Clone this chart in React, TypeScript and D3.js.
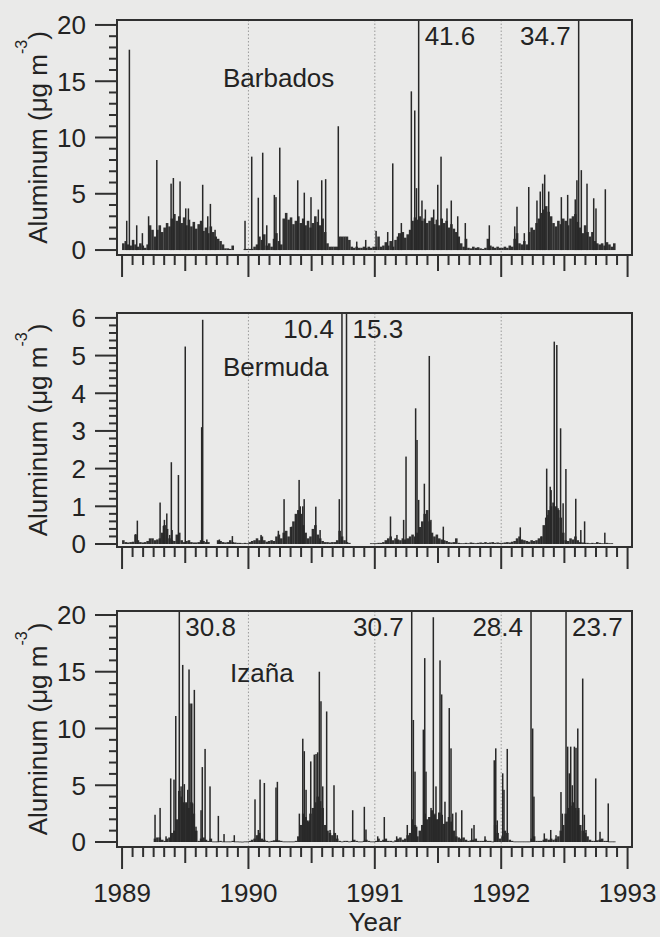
import React, { useEffect, useRef } from 'react';
import * as d3 from 'd3';

type Peak = [number, number];

const YEARS = [1989, 1990, 1991, 1992];
const TICK_YEARS = [1989, 1990, 1991, 1992, 1993];

// weekly background level of the daily record (µg m-3), 52 weeks per year, null = no samples
const barbados1989 = [0.6, 0.8, 0.5, 0.4, 0.9, 0.5, 0.3, 0.6, 0.4, 0.2, 0.5, 2.2, 1.8, 1.2, 1.8, 2.2, 1.6, 2.0, 2.4, 2.1, 2.8, 3.2, 2.6, 3.0, 2.4, 2.9, 2.2, 2.7, 2.1, 2.5, 1.9, 2.3, 2.6, 1.7, 2.0, 1.5, 2.1, 1.6, 1.2, 1.0, 0.8, 0.5, 0.15, 0.15, 0.1, 0.4, null, null, null, null, 0.1, 0.1];
const barbados1990 = [0.1, 0.1, 0.3, 0.5, 1.2, 0.9, 1.4, 0.4, 0.6, 0.3, 1.0, 1.5, 0.8, 0.5, 2.8, 3.3, 2.7, 2.9, 2.3, 2.6, 3.0, 2.4, 2.8, 2.2, 2.6, 2.0, 2.4, 3.0, 2.5, 2.2, 2.8, 1.6, 0.6, 0.3, 0.3, 0.3, 0.3, 1.2, 1.2, 1.2, 1.2, 0.9, 0.3, 0.2, 0.3, 0.2, 0.2, 0.3, 0.2, 0.3, 0.2, 0.3];
const barbados1991 = [0.3, 1.2, 0.3, 0.4, 0.7, 0.4, 0.8, 0.3, 0.9, 1.2, 1.5, 1.6, 1.1, 1.4, 1.8, 2.6, 2.9, 2.7, 3.0, 2.6, 2.8, 2.4, 2.6, 2.9, 2.3, 2.7, 2.2, 2.8, 2.4, 2.6, 2.0, 2.3, 1.9, 1.6, 1.2, 0.6, 0.3, 1.0, 0.2, 0.15, 0.3, 0.2, 0.25, 0.15, 0.1, 0.2, 1.0, 0.4, 0.3, 0.2, 0.3, 0.2];
const barbados1992 = [0.2, 0.3, 0.2, 0.4, 0.3, 1.0, 1.5, 0.6, 0.5, 0.8, 0.5, 1.6, 2.0, 1.8, 2.4, 2.8, 3.3, 3.6, 3.9, 3.4, 3.0, 2.4, 2.1, 2.6, 2.3, 2.8, 2.6, 2.2, 2.8, 3.0, 3.2, 2.5, 2.0, 1.5, 2.2, 1.6, 1.2, 1.6, 0.8, 0.6, 0.5, 0.6, 0.4, 0.7, 0.5, 0.3, 0.6, null, null, null, null, null];

const bermuda1989 = [0.1, 0.05, 0.04, 0.05, 0.06, 0.25, 0.1, 0.05, 0.04, 0.05, 0.08, 0.15, 0.15, 0.1, 0.12, 0.15, 0.3, 0.5, 0.4, 0.15, 0.1, 0.08, 0.25, 0.3, 0.1, 0.05, 0.08, 0.1, 0.05, 0.04, 0.04, 0.05, 0.1, 0.08, 0.05, 0.05, null, null, null, 0.1, 0.08, 0.05, 0.04, 0.05, 0.1, 0.05, 0.04, 0.03, 0.03, 0.02, 0.03, 0.02];
const bermuda1990 = [0.05, 0.08, 0.1, 0.15, 0.1, 0.2, 0.1, 0.06, 0.08, 0.1, 0.08, 0.2, 0.25, 0.15, 0.3, 0.35, 0.2, 0.45, 0.6, 0.8, 0.9, 0.8, 0.5, 0.3, 0.15, 0.2, 0.4, 0.5, 0.25, 0.15, 0.08, 0.05, 0.05, 0.04, 0.05, 0.05, 0.1, 0.35, 0.2, 0.1, 0.05, 0.03, null, null, null, null, null, null, null, null, 0.02, 0.02];
const bermuda1991 = [0.02, 0.03, 0.03, 0.05, 0.1, 0.15, 0.2, 0.1, 0.15, 0.12, 0.1, 0.15, 0.12, 0.15, 0.2, 0.25, 0.2, 0.3, 0.45, 0.6, 0.8, 0.9, 0.6, 0.3, 0.2, 0.25, 0.15, 0.12, 0.1, 0.08, 0.05, 0.04, 0.05, 0.15, 0.03, 0.02, 0.02, 0.03, 0.02, 0.04, 0.03, 0.02, 0.03, 0.04, 0.03, 0.05, 0.03, 0.04, 0.05, 0.03, 0.04, 0.03];
const bermuda1992 = [0.03, 0.04, 0.05, 0.04, 0.06, 0.08, 0.15, 0.2, 0.12, 0.1, 0.08, 0.06, 0.1, 0.08, 0.1, 0.15, 0.2, 0.5, 0.7, 0.9, 1.0, 1.1, 1.0, 0.9, 0.7, 0.3, 0.1, 0.08, 0.15, 0.12, 0.2, 0.1, 0.05, 0.04, 0.03, 0.03, 0.02, 0.03, 0.02, 0.05, 0.03, 0.02, 0.02, 0.03, 0.02, 0.02, null, null, null, null, null, null];

const izana1989 = [null, null, null, null, null, null, null, null, null, null, null, null, null, 0.3, 0.4, 0.4, 0.2, 0.1, 0.3, 0.4, 0.8, 1.0, 2.0, 4.5, 4.0, 3.5, 3.5, 3.0, 3.5, 2.5, 1.0, 0.1, 0.3, 0.4, 0.2, 0.1, 0.3, 0.05, 0.05, 0.05, 0.1, 0.05, 0.05, 0.05, 0.05, 0.1, 0.05, 0.05, 0.04, 0.03, 0.05, 0.05];
const izana1990 = [0.1, 0.2, 0.3, 0.6, 0.8, 0.3, 0.2, 0.1, 0.05, 0.1, 0.15, 0.2, 0.15, 0.1, 0.05, 0.05, 0.05, 0.05, 0.05, 0.1, 0.5, 1.5, 2.5, 2.2, 1.8, 2.5, 3.0, 3.5, 4.0, 3.6, 3.0, 1.5, 1.0, 0.8, 0.6, 0.8, 0.3, 0.1, 0.05, 0.1, 0.1, 0.05, 0.1, 0.2, 0.1, 0.05, 0.05, 0.1, 0.2, 0.1, 0.05, 0.05];
const izana1991 = [0.1, 0.3, 0.1, 0.2, 0.3, 0.1, 0.1, 0.05, 0.15, 0.3, 0.4, 0.2, 0.3, 0.6, 0.8, 2.0, 1.5, 0.5, 1.0, 1.5, 2.5, 2.0, 2.2, 2.8, 2.4, 2.0, 2.6, 2.4, 1.6, 1.8, 2.2, 1.8, 1.0, 0.5, 0.4, 0.3, 0.4, 0.2, 0.1, 0.15, 0.2, 0.3, 0.1, 0.1, 0.1, 0.2, 0.1, 0.1, 0.05, 1.5, 0.8, 0.3];
const izana1992 = [0.5, 1.0, 0.8, 0.2, 0.1, 0.05, 0.05, 0.05, 0.05, 0.05, 0.05, 0.05, 0.3, 0.5, 0.1, 0.1, 0.1, 0.2, 0.3, 0.2, 0.3, 0.2, 0.3, 0.5, 1.0, 1.5, 2.5, 3.0, 3.2, 3.5, 3.0, 2.8, 1.5, 1.0, 0.8, 0.5, 0.2, 0.1, 0.1, 0.15, 0.2, 0.3, 0.1, 0.1, 0.05, 0.05, 0.05, null, null, null, null, null];

// individual daily peaks: [decimal year, µg m-3]
const barbadosPeaks: Peak[] = [
  [1989.037, 2.6], [1989.058, 17.8], [1989.089, 0.9], [1989.116, 2.2], [1989.161, 1.5], [1989.21, 3.0],
  [1989.275, 8.0], [1989.388, 5.9], [1989.406, 6.4], [1989.459, 6.1], [1989.504, 3.7], [1989.525, 3.7],
  [1989.567, 2.2], [1989.638, 5.8], [1989.678, 3.0], [1989.699, 4.1], [1989.736, 1.8], [1989.973, 2.6],
  [1990.026, 8.3], [1990.078, 4.65], [1990.113, 8.65], [1990.145, 2.2], [1990.205, 4.9], [1990.218, 4.7],
  [1990.248, 9.1], [1990.39, 6.2], [1990.442, 5.1], [1990.495, 4.7], [1990.553, 3.6], [1990.58, 6.2],
  [1990.611, 6.3], [1990.711, 11.0], [1990.857, 0.75], [1990.928, 0.9],
  [1991.01, 1.7], [1991.102, 1.6], [1991.142, 7.7], [1991.189, 1.5], [1991.21, 2.4], [1991.289, 14.1],
  [1991.316, 12.4], [1991.33, 5.5], [1991.347, 41.6], [1991.373, 4.4], [1991.4, 3.6], [1991.466, 3.6],
  [1991.498, 5.8], [1991.524, 8.3], [1991.571, 3.7], [1991.605, 4.4], [1991.656, 3.0], [1991.716, 2.4],
  [1991.906, 2.2],
  [1992.107, 2.1], [1992.125, 3.85], [1992.183, 1.5], [1992.218, 5.6], [1992.283, 4.4], [1992.309, 5.2],
  [1992.328, 5.9], [1992.344, 6.7], [1992.376, 5.2], [1992.476, 4.7], [1992.526, 4.9], [1992.586, 4.5],
  [1992.599, 6.2], [1992.613, 34.7], [1992.634, 7.1], [1992.679, 5.9], [1992.732, 4.6], [1992.75, 3.7],
  [1992.824, 5.4],
];

const bermudaPeaks: Peak[] = [
  [1989.108, 0.26], [1989.121, 0.62], [1989.301, 1.1], [1989.327, 0.48], [1989.335, 0.64], [1989.354, 0.81],
  [1989.377, 0.24], [1989.39, 2.17], [1989.396, 0.37], [1989.446, 1.83], [1989.5, 5.24], [1989.63, 3.1],
  [1989.638, 5.95], [1989.671, 0.12], [1989.77, 0.12], [1989.873, 0.21],
  [1990.1, 0.24], [1990.237, 0.35], [1990.282, 1.19], [1990.341, 0.46], [1990.375, 0.77], [1990.401, 1.7],
  [1990.41, 1.0], [1990.43, 1.0], [1990.441, 1.19], [1990.533, 0.99], [1990.567, 0.37], [1990.719, 1.19],
  [1990.74, 10.4], [1990.776, 15.3],
  [1991.124, 0.73], [1991.175, 0.24], [1991.228, 0.64], [1991.247, 2.32], [1991.323, 3.6], [1991.334, 2.76],
  [1991.347, 1.17], [1991.392, 1.6], [1991.431, 4.99], [1991.444, 0.64], [1991.542, 0.46],
  [1992.151, 0.44], [1992.32, 0.2], [1992.36, 2.0], [1992.37, 0.77], [1992.388, 1.52], [1992.395, 1.43],
  [1992.42, 5.37], [1992.44, 5.28], [1992.45, 0.95], [1992.47, 3.07], [1992.49, 1.08], [1992.512, 1.99],
  [1992.59, 1.2], [1992.63, 0.37], [1992.66, 0.6], [1992.82, 0.3],
];

const izanaPeaks: Peak[] = [
  [1989.261, 2.4], [1989.301, 3.0], [1989.348, 0.5], [1989.385, 5.6], [1989.411, 5.5], [1989.425, 11.1],
  [1989.453, 30.8], [1989.467, 4.9], [1989.48, 15.6], [1989.493, 5.1], [1989.506, 3.4], [1989.52, 4.6],
  [1989.53, 15.2], [1989.538, 12.2], [1989.551, 12.2], [1989.559, 3.4], [1989.572, 13.4], [1989.585, 1.35],
  [1989.625, 2.8], [1989.635, 6.6], [1989.657, 8.2], [1989.696, 4.9], [1989.762, 2.3], [1989.807, 0.7],
  [1989.888, 0.6],
  [1990.052, 3.76], [1990.078, 1.06], [1990.092, 5.5], [1990.126, 5.2], [1990.218, 4.8], [1990.229, 5.3],
  [1990.403, 2.5], [1990.43, 9.1], [1990.442, 8.0], [1990.456, 4.6], [1990.469, 1.9], [1990.482, 1.9],
  [1990.493, 7.1], [1990.521, 7.7], [1990.535, 7.75], [1990.548, 7.9], [1990.561, 15.0], [1990.574, 12.4],
  [1990.588, 4.9], [1990.619, 11.5], [1990.646, 1.06], [1990.677, 5.0], [1990.703, 0.6], [1990.825, 2.8],
  [1990.917, 3.1], [1990.93, 1.1],
  [1991.023, 0.5], [1991.075, 2.2], [1991.173, 0.5], [1991.257, 1.5], [1991.292, 30.7], [1991.305, 10.75],
  [1991.318, 6.2], [1991.331, 1.35], [1991.384, 9.9], [1991.395, 16.2], [1991.405, 6.2], [1991.429, 2.2],
  [1991.445, 3.0], [1991.463, 19.8], [1991.476, 2.5], [1991.484, 4.9], [1991.502, 2.0], [1991.516, 16.0],
  [1991.529, 13.0], [1991.555, 3.55], [1991.589, 11.8], [1991.603, 8.25], [1991.616, 2.5], [1991.642, 2.6],
  [1991.688, 2.8], [1991.767, 1.2], [1991.785, 1.5], [1991.872, 0.5], [1991.945, 7.2], [1991.957, 8.25],
  [1991.969, 1.9],
  [1992.012, 6.05], [1992.022, 4.6], [1992.048, 8.2], [1992.236, 28.4], [1992.249, 10.0], [1992.259, 4.0],
  [1992.341, 0.76], [1992.392, 1.06], [1992.434, 0.6], [1992.473, 4.4], [1992.484, 2.5], [1992.513, 23.7],
  [1992.526, 8.4], [1992.539, 6.05], [1992.55, 8.4], [1992.563, 5.0], [1992.579, 8.4], [1992.592, 8.3],
  [1992.606, 10.0], [1992.614, 3.0], [1992.645, 14.4], [1992.658, 2.4], [1992.671, 1.06], [1992.748, 5.6],
  [1992.782, 0.9], [1992.847, 3.4],
];

// side of the spike on which each off-scale value is written, in time order
const barbadosLabelSides = ['right', 'left'];
const bermudaLabelSides = ['left', 'right'];
const izanaLabelSides = ['right', 'left', 'left', 'right'];

const stations = [
  { name: 'Barbados', weekly: [barbados1989, barbados1990, barbados1991, barbados1992], peaks: barbadosPeaks, sides: barbadosLabelSides,
    major: [0, 5, 10, 15, 20], minorStep: 1, top: 20, bottom: 255, domain: [-0.44, 20.44], nameX: 223, nameDy: 67 },
  { name: 'Bermuda', weekly: [bermuda1989, bermuda1990, bermuda1991, bermuda1992], peaks: bermudaPeaks, sides: bermudaLabelSides,
    major: [0, 1, 2, 3, 4, 5, 6], minorStep: 0.2, top: 313, bottom: 547, domain: [-0.08, 6.13], nameX: 223, nameDy: 63 },
  { name: 'Izaña', weekly: [izana1989, izana1990, izana1991, izana1992], peaks: izanaPeaks, sides: izanaLabelSides,
    major: [0, 5, 10, 15, 20], minorStep: 1, top: 611, bottom: 847, domain: [-0.44, 20.35], nameX: 230, nameDy: 71 },
];

const W = 660;
const H = 937;
const INK = '#232323';
const FONT = '"Liberation Sans", Arial, Helvetica, sans-serif';

const App = () => {
  const ref = useRef<SVGSVGElement>(null);

  useEffect(() => {
    const svg = d3.select(ref.current);
    svg.selectAll('*').remove();

    svg.append('rect').attr('width', W).attr('height', H).attr('fill', '#eaeae9');

    const x = d3.scaleLinear().domain([1988.96, 1993.035]).range([117, 632]);
    const monthTicks = d3.range(0, 48).filter(i => i % 12 !== 0).map(i => ({ t: 1989 + i / 12, half: i % 12 === 6 }));

    stations.forEach((s, si) => {
      const y = d3.scaleLinear().domain(s.domain).range([s.bottom, s.top]);
      const yTop = s.domain[1];
      const g = svg.append('g');

      // dotted year separators
      g.selectAll('line.sep')
        .data([1990, 1991, 1992])
        .join('line')
        .attr('x1', d => x(d)).attr('x2', d => x(d))
        .attr('y1', s.top).attr('y2', s.bottom)
        .attr('stroke', '#9a9a9a')
        .attr('stroke-width', 1)
        .attr('stroke-dasharray', '1.5,2');

      // weekly background of the daily record
      const weeks = s.weekly.flatMap((arr, yi) =>
        arr.map((v, wi) => ({ t: YEARS[yi] + wi / 52, v }))
      ).filter(d => d.v != null && d.v > 0) as { t: number; v: number }[];

      g.selectAll('rect.wk')
        .data(weeks)
        .join('rect')
        .attr('x', d => x(d.t))
        .attr('width', d => x(d.t + 1 / 52) - x(d.t) + 0.15)
        .attr('y', d => y(Math.min(d.v, yTop)))
        .attr('height', d => Math.max(0.8, y(0) - y(Math.min(d.v, yTop))))
        .attr('fill', '#303030');

      // single-day peaks
      g.selectAll('rect.pk')
        .data(s.peaks)
        .join('rect')
        .attr('x', d => x(d[0]) - 0.75)
        .attr('width', 1.5)
        .attr('y', d => y(Math.min(d[1], yTop)))
        .attr('height', d => y(0) - y(Math.min(d[1], yTop)))
        .attr('fill', '#282828');

      // off-scale values
      const offScale = s.peaks.filter(d => d[1] > yTop);
      g.selectAll('text.val')
        .data(offScale)
        .join('text')
        .attr('x', (d, i) => (s.sides[i] === 'left' ? x(d[0]) - 8 : x(d[0]) + 6))
        .attr('y', s.top + 25)
        .attr('text-anchor', (d, i) => (s.sides[i] === 'left' ? 'end' : 'start'))
        .attr('font-family', FONT)
        .attr('font-size', 26)
        .attr('fill', INK)
        .text(d => d[1].toFixed(1));

      // station name
      g.append('text')
        .attr('x', s.nameX)
        .attr('y', s.top + s.nameDy)
        .attr('font-family', FONT)
        .attr('font-size', 26)
        .attr('fill', INK)
        .text(s.name);

      // frame
      g.append('rect')
        .attr('x', 117).attr('y', s.top)
        .attr('width', 632 - 117).attr('height', s.bottom - s.top)
        .attr('fill', 'none')
        .attr('stroke', '#303030')
        .attr('stroke-width', 2);

      // y axis: major and minor ticks
      const minor = d3.range(0, s.major[s.major.length - 1] + 1e-6, s.minorStep)
        .filter(v => !s.major.some(m => Math.abs(m - v) < 1e-6));
      g.selectAll('line.ymin')
        .data(minor)
        .join('line')
        .attr('x1', 109).attr('x2', 117)
        .attr('y1', d => y(d)).attr('y2', d => y(d))
        .attr('stroke', '#303030').attr('stroke-width', 2);
      g.selectAll('line.ymaj')
        .data(s.major)
        .join('line')
        .attr('x1', 95).attr('x2', 117)
        .attr('y1', d => y(d)).attr('y2', d => y(d))
        .attr('stroke', '#303030').attr('stroke-width', 2);
      g.selectAll('text.ylab')
        .data(s.major)
        .join('text')
        .attr('x', 86)
        .attr('y', d => y(d))
        .attr('dy', '0.36em')
        .attr('text-anchor', 'end')
        .attr('font-family', FONT)
        .attr('font-size', 26)
        .attr('fill', INK)
        .text(d => d);

      // y title
      const title = g.append('text')
        .attr('transform', `translate(47,${(s.top + s.bottom) / 2}) rotate(-90)`)
        .attr('text-anchor', 'middle')
        .attr('font-family', FONT)
        .attr('font-size', 26)
        .attr('fill', INK);
      title.append('tspan').text('Aluminum (μg m');
      title.append('tspan').attr('dy', -20).attr('font-size', 16).text('-3');
      title.append('tspan').attr('dy', 20).text(')');

      // x axis ticks
      g.selectAll('line.xmin')
        .data(monthTicks)
        .join('line')
        .attr('x1', d => x(d.t)).attr('x2', d => x(d.t))
        .attr('y1', s.bottom).attr('y2', d => s.bottom + (d.half ? 16 : 10))
        .attr('stroke', '#303030').attr('stroke-width', 2);
      g.selectAll('line.xmaj')
        .data(TICK_YEARS)
        .join('line')
        .attr('x1', d => x(d)).attr('x2', d => x(d))
        .attr('y1', s.bottom).attr('y2', s.bottom + 22)
        .attr('stroke', '#303030').attr('stroke-width', 2);

      if (si === stations.length - 1) {
        g.selectAll('text.xlab')
          .data(TICK_YEARS)
          .join('text')
          .attr('x', d => x(d))
          .attr('y', s.bottom + 55)
          .attr('text-anchor', 'middle')
          .attr('font-family', FONT)
          .attr('font-size', 26)
          .attr('fill', INK)
          .text(d => d);
        g.append('text')
          .attr('x', (x(1989) + x(1993)) / 2)
          .attr('y', s.bottom + 84)
          .attr('text-anchor', 'middle')
          .attr('font-family', FONT)
          .attr('font-size', 26)
          .attr('fill', INK)
          .text('Year');
      }
    });
  }, []);

  return <svg ref={ref} width={W} height={H} style={{ position: 'absolute', left: 0, top: 0 }} />;
};

export default App;
